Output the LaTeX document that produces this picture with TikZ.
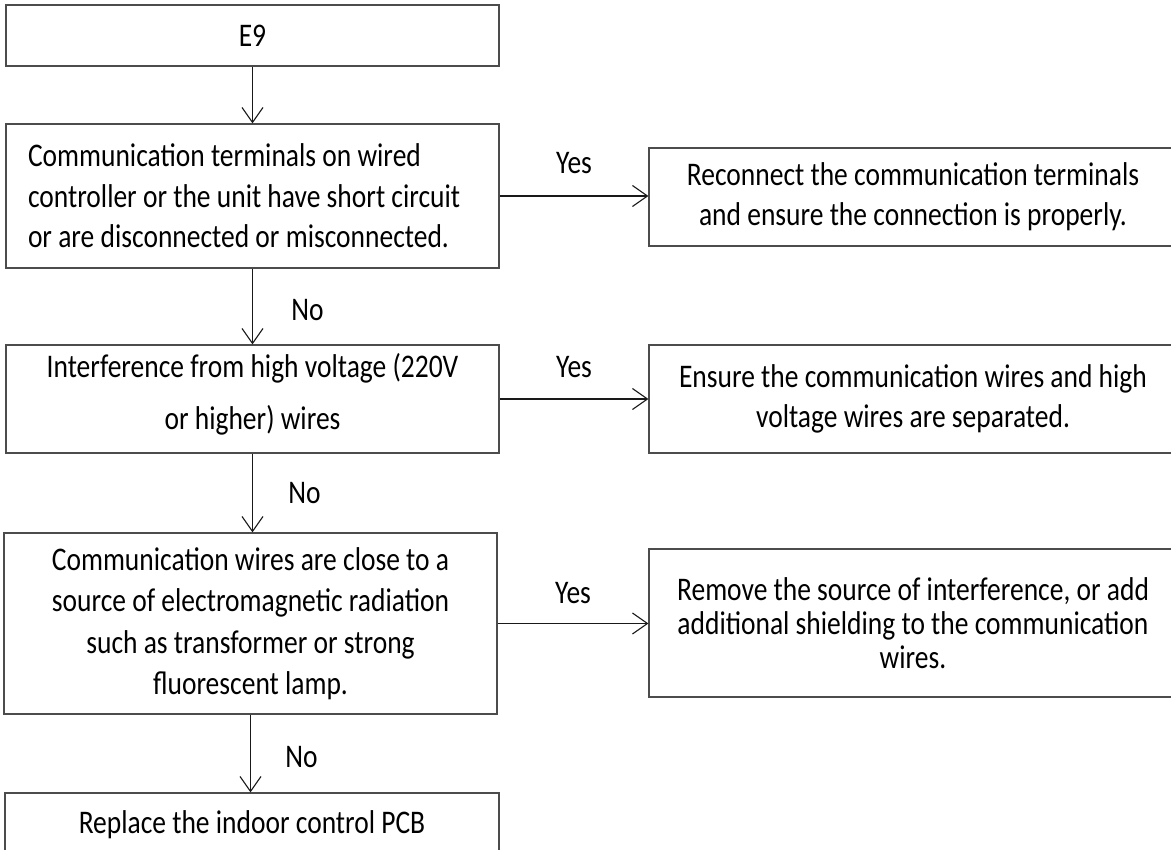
\documentclass[tikz,border=0pt]{standalone}
\usepackage{fontspec}
\setmainfont{Carlito}
\usetikzlibrary{arrows.meta}
% text set at 27.5pt and drawn 1.2 times taller than wide
\newcommand{\tallpar}[4]{\scalebox{1}[1.2]{\parbox{#1}{\fontsize{27.5}{#3}\selectfont#2 #4}}}
\newcommand{\tallline}[1]{\scalebox{1}[1.2]{\fontsize{27.5}{30}\selectfont #1}}
\begin{document}
\begin{tikzpicture}[x=1pt,y=-1pt,
  box/.style={draw=black!70, line width=1.2pt, rectangle, inner sep=0pt, anchor=center},
  flow/.style={draw=black!90, line width=1.2pt,
    -{Straight Barb[length=15pt,width=21pt,line width=1.1pt]}},
  lbl/.style={inner sep=0pt}]
\useasboundingbox (0,0) rectangle (1171,850);
\fill[white] (0,0) rectangle (1171,850);

% left column: checks
\node[box, minimum width=493pt, minimum height=61pt] (e9) at (252.5,35.5) {\tallline{E9}};
\node[box, minimum width=493pt, minimum height=144pt] (c1) at (252.5,196)
  {\tallpar{449pt}{\raggedright}{33.75pt}{Communication terminals on wired\\controller or the unit have short circuit\\or are disconnected or misconnected.}};
\node[box, minimum width=493pt, minimum height=108pt] (c2) at (252.5,399)
  {\raisebox{5pt}[\height][\depth]{\tallpar{480pt}{\centering}{43.3pt}{Interference from high voltage (220V\\or higher) wires}}};
\node[box, minimum width=493pt, minimum height=181pt] (c3) at (250.5,623.5)
  {\tallpar{480pt}{\centering}{34.6pt}{Communication wires are close to a\\source of electromagnetic radiation\\such as transformer or strong\\fluorescent lamp.}};
\node[box, minimum width=494pt, minimum height=64pt] (pcb) at (252,825) {\tallline{Replace the indoor control PCB}};

% right column: remedies
\node[box, minimum width=528pt, minimum height=98pt] (r1) at (913,197)
  {\tallpar{510pt}{\centering}{33.3pt}{Reconnect the communication terminals\\and ensure the connection is properly.}};
\node[box, minimum width=528pt, minimum height=108pt] (r2) at (913,399)
  {\tallpar{510pt}{\centering}{33.3pt}{Ensure the communication wires and high\\voltage wires are separated.}};
\node[box, minimum width=528pt, minimum height=148pt] (r3) at (913,623)
  {\tallpar{510pt}{\centering}{28.3pt}{Remove the source of interference, or add\\additional shielding to the communication\\wires.}};

% connectors
\draw[flow] (e9.south) -- (e9.south |- c1.north);
\draw[flow] (c1.south) -- (c1.south |- c2.north) node[lbl, midway, xshift=55pt, yshift=-4pt] {\tallline{No}};
\draw[flow] (c2.south) -- (c2.south |- c3.north) node[lbl, midway, xshift=52pt] {\tallline{No}};
\draw[flow] (c3.south) -- (c3.south |- pcb.north) node[lbl, midway, xshift=51pt, yshift=-4pt] {\tallline{No}};
\draw[flow] (c1.east) -- (c1.east -| r1.west) node[lbl, midway, yshift=33pt] {\tallline{Yes}};
\draw[flow] (c2.east) -- (c2.east -| r2.west) node[lbl, midway, yshift=32pt] {\tallline{Yes}};
\draw[flow] (c3.east) -- (c3.east -| r3.west) node[lbl, midway, yshift=30pt] {\tallline{Yes}};
\end{tikzpicture}
\end{document}
